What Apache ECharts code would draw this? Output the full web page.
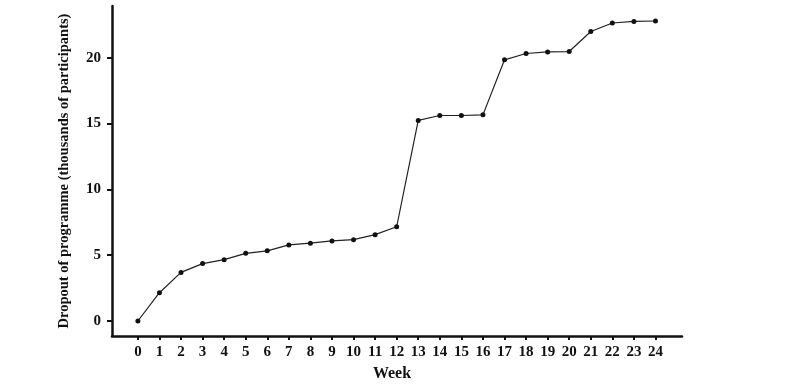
<!DOCTYPE html>
<html>
<head>
<meta charset="utf-8">
<script src="https://cdn.jsdelivr.net/npm/echarts@6/dist/echarts.min.js"></script>
<style>html,body{margin:0;padding:0;background:#fff}#c{width:800px;height:387px}</style>
</head>
<body>
<div id="c"></div>
<script>
const weeks = [0,1,2,3,4,5,6,7,8,9,10,11,12,13,14,15,16,17,18,19,20,21,22,23,24];
const dropout = [0,2.15,3.69,4.36,4.66,5.14,5.33,5.78,5.91,6.08,6.18,6.56,7.16,15.24,15.61,15.61,15.66,19.84,20.32,20.44,20.47,21.99,22.64,22.76,22.79];
const yTicks = [0,5,10,15,20];
const xTitle = 'Week';
const yTitle = 'Dropout of programme (thousands of participants)';

const font = 'Liberation Serif';
const chart = echarts.init(document.getElementById('c'), null, {renderer:'canvas'});
chart.setOption({
  animation:false,
  backgroundColor:'#fff',
  grid:{left:112, top:6, right:118, bottom:46, containLabel:false},
  xAxis:{
    type:'value', min:-1.2, max:25.23,
    name:xTitle, nameLocation:'middle', nameGap:30,
    nameTextStyle:{fontFamily:font, fontWeight:'bold', fontSize:16, color:'#111', padding:[0,10,0,0]},
    axisLine:{show:true, onZero:false, lineStyle:{color:'#111', width:2.5}},
    axisTick:{show:true, customValues:weeks, length:4, lineStyle:{color:'#111', width:2}},
    axisLabel:{customValues:weeks, margin:9, fontFamily:font, fontWeight:'bold', fontSize:15, color:'#111'},
    splitLine:{show:false}
  },
  yAxis:{
    type:'value', min:-1.14, max:23.93,
    name:yTitle, nameLocation:'middle', nameGap:40, nameRotate:90,
    nameTextStyle:{fontFamily:font, fontWeight:'bold', fontSize:14.5, color:'#111'},
    axisLine:{show:true, onZero:false, lineStyle:{color:'#111', width:2.5}},
    axisTick:{show:true, customValues:yTicks, length:5, lineStyle:{color:'#111', width:2}},
    axisLabel:{customValues:yTicks, margin:11, fontFamily:font, fontWeight:'bold', fontSize:15, color:'#111'},
    splitLine:{show:false}
  },
  series:[{
    type:'line',
    data:weeks.map((w,i)=>[w,dropout[i]]),
    symbol:'circle', symbolSize:5,
    itemStyle:{color:'#111'},
    lineStyle:{color:'#222', width:1.2}
  }]
});
</script>
</body>
</html>
